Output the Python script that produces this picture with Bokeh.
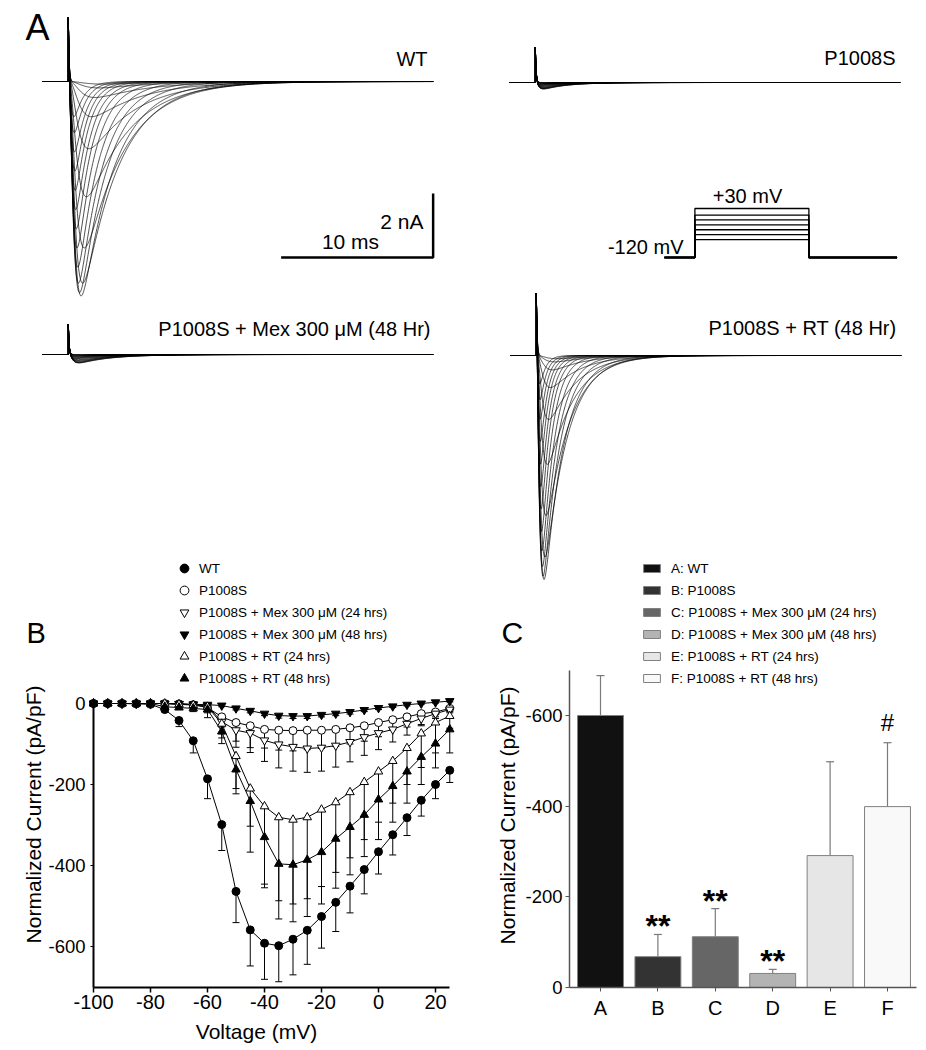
import numpy as np
from bokeh.plotting import figure
from bokeh.models import (Range1d, ColumnDataSource, LinearAxis, FixedTicker, Whisker,
                          TeeHead, Legend, LegendItem)
from bokeh.core.properties import value
from bokeh.embed import file_html
from bokeh.resources import INLINE

# ======================= DATA =======================
# ---- Panel A: current traces (one sweep per test potential) ----
sweep_mV = list(range(-70, 30, 5))
tau_m_ms = [0.90, 0.75, 0.62, 0.52, 0.44, 0.38, 0.33, 0.29, 0.26, 0.23,
            0.21, 0.20, 0.19, 0.18, 0.17, 0.16, 0.155, 0.15, 0.145, 0.14]
tau_h_ms = [3.5, 3.4, 3.3, 3.2, 3.0, 2.8, 2.6, 2.4, 2.1, 1.8,
            1.6, 1.4, 1.2, 1.05, 0.95, 0.85, 0.78, 0.72, 0.66, 0.60]
wt_peak_nA = [0.08, 0.2, 0.5, 1.1, 2.1, 3.6, 5.2, 6.3, 6.7, 6.6,
              6.3, 5.8, 5.2, 4.6, 4.0, 3.4, 2.8, 2.2, 1.6, 1.1]
p1008s_peak_nA = [0.0, 0.01, 0.02, 0.04, 0.07, 0.11, 0.15, 0.18, 0.2, 0.2,
                  0.19, 0.18, 0.16, 0.14, 0.12, 0.1, 0.08, 0.06, 0.05, 0.03]
mex_peak_nA = [0.0, 0.01, 0.03, 0.06, 0.1, 0.15, 0.2, 0.24, 0.26, 0.26,
               0.25, 0.23, 0.2, 0.18, 0.15, 0.13, 0.11, 0.08, 0.06, 0.04]
rt_peak_nA = [0.1, 0.2, 0.45, 1.0, 2.0, 3.4, 5.0, 6.3, 7.0, 6.9,
              6.6, 6.1, 5.5, 4.8, 4.1, 3.4, 2.7, 2.0, 1.4, 0.9]
panel_names = ["WT", "P1008S", "P1008S + Mex 300 \u03bcM (48 Hr)", "P1008S + RT (48 Hr)"]
artifact_nA = [2.0, 1.1, 0.95, 1.95]
kinetics_scale = [1.0, 0.7, 0.9, 0.6]
trace_len_ms = 25.7
step_on_ms = 1.7
scale_bar_ms = 10
scale_bar_nA = 2

# ---- voltage protocol ----
hold_mV = -120
step_mV = [-65, -50, -35, -20, -5, 10, 30]
prot_on_ms, prot_off_ms, prot_end_ms = 2.0, 9.5, 15.3

# ---- Panel B: I-V relationships ----
voltage_mV = list(range(-100, 30, 5))
iv_wt = [0, 0, 0, -1, -2, -15, -42, -92, -186, -299, -464, -559, -592, -598, -582, -560,
         -526, -491, -451, -410, -366, -324, -282, -239, -200, -165]
iv_wt_err = [0, 0, 0, 0, 1, 5, 15, 30, 49, 64, 77, 89, 89, 89, 88, 84,
             78, 72, 66, 60, 55, 50, 44, 39, 35, 30]
iv_p1008s = [0, 0, 0, 0, 0, 0, -1, -3, -10, -33, -47, -55, -64, -66, -67, -66,
             -66, -64, -60, -55, -47, -40, -33, -25, -21, -12]
iv_p1008s_err = [0, 0, 0, 0, 0, 0, 1, 3, 8, 25, 46, 54, 46, 49, 50, 48,
                 45, 42, 40, 38, 35, 25, 25, 30, 12, 8]
iv_mex24 = [0, 0, 0, 0, 0, 0, -1, -3, -6, -45, -66, -73, -91, -101, -107, -111,
            -109, -104, -95, -83, -73, -64, -50, -37, -25, -15]
iv_mex24_err = [0, 0, 0, 0, 0, 0, 1, 3, 10, 30, 42, 48, 52, 58, 60, 59,
                58, 53, 49, 45, 41, 31, 28, 15, 12, 8]
iv_mex48 = [0, 0, 0, 0, 0, 0, -1, -2, -3, -5, -12, -18, -25, -30, -31, -31,
            -28, -25, -21, -16, -11, -7, -3, 0, 3, 6]
iv_mex48_err = [0, 0, 0, 0, 0, 0, 1, 1, 2, 3, 4, 5, 5, 6, 6, 6,
                5, 5, 5, 4, 4, 3, 3, 2, 2, 2]
iv_rt24 = [0, 0, 0, 0, 0, 0, -2, -4, -8, -50, -130, -210, -254, -281, -287, -281,
           -262, -244, -219, -194, -168, -142, -110, -74, -47, -31]
iv_rt24_err = [0, 0, 0, 0, 0, 0, 2, 4, 15, 35, 80, 93, 192, 206, 208, 201,
               190, 173, 162, 142, 125, 104, 90, 84, 75, 30]
iv_rt48 = [0, 0, 0, 0, 0, -8, -10, -12, -15, -69, -163, -241, -330, -396, -398, -386,
           -367, -334, -305, -275, -237, -204, -168, -132, -99, -64]
iv_rt48_err = [0, 0, 0, 0, 0, 3, 5, 8, 20, 30, 60, 126, 125, 136, 141, 140,
               128, 122, 118, 103, 99, 89, 78, 68, 60, 58]
iv_names = ["WT", "P1008S", "P1008S + Mex 300 \u03bcM (24 hrs)", "P1008S + Mex 300 \u03bcM (48 hrs)",
            "P1008S + RT (24 hrs)", "P1008S + RT (48 hrs)"]
iv_x_ticks = [-100, -80, -60, -40, -20, 0, 20]
iv_y_ticks = [-600, -400, -200, 0]

# ---- Panel C: peak current density ----
groups = ["A", "B", "C", "D", "E", "F"]
group_names = ["WT", "P1008S", "P1008S + Mex 300 \u03bcM (24 hrs)", "P1008S + Mex 300 \u03bcM (48 hrs)",
               "P1008S + RT (24 hrs)", "P1008S + RT (48 hrs)"]
bar_mean = [-600, -68, -112, -31, -291, -399]
bar_err = [88, 49, 62, 9, 207, 141]
sig_mark = ["", "**", "**", "**", "", "#"]
bar_y_ticks = [-600, -400, -200, 0]

# ======================= LAYOUT / STYLE =======================
W, H = 926, 1050
FONT = "Liberation Sans"
bar_colors = ["#111111", "#333333", "#666666", "#b3b3b3", "#e6e6e6", "#f9f9f9"]


def xmap(d0, p0, d1, p1):
    k = (p1 - p0) / (d1 - d0)
    s = d0 - p0 / k
    return Range1d(start=s, end=s + W / k)


def ymap(d0, p0, d1, p1):
    c0, c1 = H - p0, H - p1
    k = (c1 - c0) / (d1 - d0)
    s = d0 - c0 / k
    return Range1d(start=s, end=s + H / k)


def hyphen_labels(ticks):
    return {t: str(t) for t in ticks}


p = figure(width=W, height=H, x_range=Range1d(0, W), y_range=Range1d(H, 0),
           x_axis_type=None, y_axis_type=None, output_backend="svg",
           toolbar_location=None, min_border=0)
p.outline_line_color = None
p.background_fill_color = "white"

# trace panels: ms / nA, 15.2 px per ms, 32 px per nA
trace_origin = [(42, 81), (509, 82), (42, 354), (510, 355)]
for i, (ox, oy) in enumerate(trace_origin):
    p.extra_x_ranges[f"t{i}x"] = xmap(0, ox, 10, ox + 152)
    p.extra_y_ranges[f"t{i}y"] = ymap(0, oy, -2, oy + 64)
p.extra_x_ranges["px"] = xmap(0, 664, 10, 816)
p.extra_y_ranges["py"] = ymap(-120, 257, 30, 208)
p.extra_x_ranges["bx"] = xmap(-100, 93, 20, 435)
p.extra_y_ranges["by"] = ymap(0, 703, -600, 946)
p.extra_x_ranges["cx"] = xmap(0, 600, 5, 887)
p.extra_y_ranges["cy"] = ymap(0, 987, -600, 715)


def sweeps(peaks, art, tscale):
    pre = np.linspace(0, step_on_ms, 6)
    post = step_on_ms + np.concatenate([np.linspace(0, 9, 451), np.linspace(9.3, trace_len_ms - step_on_ms, 50)])
    xs, ys = [], []
    s = post - step_on_ms
    for A, tm, th in zip(peaks, tau_m_ms, tau_h_ms):
        f = (1 - np.exp(-s / (tm * tscale))) ** 3 * np.exp(-s / (th * tscale))
        ion = -A * f / f.max()
        spike = art * np.exp(-s / 0.05)
        xs.append(np.concatenate([pre, post]).tolist())
        ys.append(np.concatenate([np.zeros_like(pre), ion + spike]).tolist())
    return xs, ys


all_peaks = [wt_peak_nA, p1008s_peak_nA, mex_peak_nA, rt_peak_nA]
for i in range(4):
    xs, ys = sweeps(all_peaks[i], artifact_nA[i], kinetics_scale[i])
    p.multi_line(xs, ys, line_color="black", line_width=0.7,
                 x_range_name=f"t{i}x", y_range_name=f"t{i}y")

# scale bar (WT panel)
p.line([trace_len_ms - scale_bar_ms, trace_len_ms, trace_len_ms],
       [-5.5, -5.5, -5.5 + scale_bar_nA], line_color="black", line_width=2.5,
       x_range_name="t0x", y_range_name="t0y")

# voltage protocol
pxs, pys = [], []
for v in step_mV:
    pxs.append([0, prot_on_ms, prot_on_ms, prot_off_ms, prot_off_ms, prot_end_ms])
    pys.append([hold_mV, hold_mV, v, v, hold_mV, hold_mV])
p.multi_line(pxs, pys, line_color="black", line_width=1.3, x_range_name="px", y_range_name="py")


def lab(x, y, text, size_px, align="left", angle=0.0, baseline="alphabetic"):
    # y is the wanted baseline; the rendered alphabetic baseline sits ~0.42 em lower
    yy = y - 0.42 * size_px if baseline == "alphabetic" else y
    p.text(x=[x], y=[yy], text=[text], text_font=value(FONT), text_font_size=f"{size_px}px",
           text_align=align, text_baseline=baseline, angle=angle, text_color="black")


lab(25, 42, "A", 36)
lab(427, 67, panel_names[0], 20, "right")
lab(895, 66, panel_names[1], 20, "right")
lab(430, 337, panel_names[2], 20, "right")
lab(896, 336, panel_names[3], 20, "right")
lab(423, 230, "2 nA", 21, "right")
lab(350, 250, "10 ms", 21, "center")
lab(747, 204, "+30 mV", 20, "center")
lab(683, 255, "-120 mV", 20, "right")

# ======================= Panel B =======================
series = [(iv_wt, iv_wt_err, "circle", "black"),
          (iv_p1008s, iv_p1008s_err, "circle", "white"),
          (iv_mex24, iv_mex24_err, "inverted_triangle", "white"),
          (iv_mex48, iv_mex48_err, "inverted_triangle", "black"),
          (iv_rt24, iv_rt24_err, "triangle", "white"),
          (iv_rt48, iv_rt48_err, "triangle", "black")]
b_items = []
for (ys_, err, mk, fc), name in zip(series, iv_names):
    p.line(voltage_mV, ys_, line_color="black", line_width=1, x_range_name="bx", y_range_name="by")
    keep = [k for k, e in enumerate(err) if e > 0]
    src = ColumnDataSource(dict(base=[voltage_mV[k] for k in keep],
                                lower=[ys_[k] for k in keep],
                                upper=[ys_[k] - err[k] for k in keep]))
    wsk = Whisker(base="base", lower="lower", upper="upper", source=src, dimension="height",
                  line_color="black", line_width=1, lower_head=None,
                  upper_head=TeeHead(size=7, line_color="black", line_width=1),
                  x_range_name="bx", y_range_name="by", level="underlay")
    p.add_layout(wsk)
for (ys_, err, mk, fc), name in zip(series, iv_names):
    r = p.scatter(voltage_mV, ys_, marker=mk, size=8 if mk == "circle" else 8.5,
                  fill_color=fc, line_color="black", line_width=1,
                  x_range_name="bx", y_range_name="by")
    b_items.append(LegendItem(label=name, renderers=[r]))

ax = LinearAxis(x_range_name="bx", y_range_name="by", fixed_location=-100, bounds=(-700, 5),
                ticker=FixedTicker(ticks=iv_y_ticks), major_label_overrides=hyphen_labels(iv_y_ticks))
ax.axis_line_width = 2
ax.major_tick_out = 3
ax.major_tick_in = 0
ax.minor_tick_out = 0
ax.major_label_standoff = 5
ax.major_label_text_font = FONT
ax.major_label_text_color = "black"
ax.major_label_text_font_size = "18.5px"
p.add_layout(ax, "left")

ax = LinearAxis(x_range_name="bx", y_range_name="by", fixed_location=-700, bounds=(-100, 25),
                ticker=FixedTicker(ticks=iv_x_ticks), major_label_overrides=hyphen_labels(iv_x_ticks))
ax.axis_line_width = 2
ax.major_tick_out = 5
ax.major_tick_in = 0
ax.major_tick_line_width = 1.5
ax.minor_tick_out = 0
ax.major_label_standoff = 3
ax.major_label_text_font = FONT
ax.major_label_text_color = "black"
ax.major_label_text_font_size = "20px"
p.add_layout(ax, "below")

lab(33, 814, "Normalized Current (pA/pF)", 21, "center", angle=np.pi / 2, baseline="middle")
lab(256, 1040, "Voltage (mV)", 21, "center")
lab(26, 645, "B", 29)

leg_b = Legend(items=b_items, location=(173, 361), orientation="vertical",
               glyph_width=22, glyph_height=22, label_height=22, spacing=0, padding=0, margin=0,
               label_standoff=4, border_line_color=None, background_fill_alpha=0,
               label_text_font=FONT, label_text_font_size="13.5px", label_text_color="black")
p.add_layout(leg_b)

# ======================= Panel C =======================
idx = list(range(len(groups)))
bars = p.vbar(x=idx, top=bar_mean, bottom=0, width=0.8, fill_color=bar_colors,
              line_color="#808080", line_width=1, x_range_name="cx", y_range_name="cy")
csrc = ColumnDataSource(dict(base=idx, lower=bar_mean,
                             upper=[m - e for m, e in zip(bar_mean, bar_err)]))
p.add_layout(Whisker(base="base", lower="lower", upper="upper", source=csrc, dimension="height",
                     line_color="#7a7a7a", line_width=1.2, lower_head=None,
                     upper_head=TeeHead(size=8, line_color="#7a7a7a", line_width=1.2),
                     x_range_name="cx", y_range_name="cy"))

st = [i for i in idx if sig_mark[i] == "**"]
p.text(x=st, y=[bar_mean[i] - bar_err[i] for i in st], text=[sig_mark[i] for i in st],
       text_font=value(FONT), text_font_size="32px", text_font_style="bold",
       text_align="center", text_baseline="alphabetic", y_offset=-8,
       x_range_name="cx", y_range_name="cy")
hs = [i for i in idx if sig_mark[i] == "#"]
p.text(x=hs, y=[bar_mean[i] - bar_err[i] for i in hs], text=[sig_mark[i] for i in hs],
       text_font=value(FONT), text_font_size="24px",
       text_align="center", text_baseline="alphabetic", y_offset=-20,
       x_range_name="cx", y_range_name="cy")

ax = LinearAxis(x_range_name="cx", y_range_name="cy", fixed_location=-0.54, bounds=(0, -700),
                ticker=FixedTicker(ticks=bar_y_ticks), major_label_overrides=hyphen_labels(bar_y_ticks))
ax.axis_line_color = "#555555"
ax.axis_line_width = 1.5
ax.major_tick_line_color = "#555555"
ax.major_tick_out = 4
ax.major_tick_in = 0
ax.minor_tick_out = 0
ax.major_label_standoff = 3
ax.major_label_text_font = FONT
ax.major_label_text_color = "black"
ax.major_label_text_font_size = "18.5px"
p.add_layout(ax, "left")

ax = LinearAxis(x_range_name="cx", y_range_name="cy", fixed_location=0, bounds=(-0.54, 5.5),
                ticker=FixedTicker(ticks=idx),
                major_label_overrides={i: g for i, g in zip(idx, groups)})
ax.axis_line_color = "#555555"
ax.axis_line_width = 1.5
ax.major_tick_line_color = "#555555"
ax.major_tick_out = 4
ax.major_tick_in = 0
ax.minor_tick_out = 0
ax.major_label_standoff = 5
ax.major_label_text_font = FONT
ax.major_label_text_color = "black"
ax.major_label_text_font_size = "20px"
p.add_layout(ax, "below")

lab(507, 815, "Normalized Current (pA/pF)", 21, "center", angle=np.pi / 2, baseline="middle")
lab(501, 645, "C", 30)

leg_c = Legend(items=[LegendItem(label=f"{g}: {n}", renderers=[bars], index=i)
                      for i, (g, n) in enumerate(zip(groups, group_names))],
               location=(641, 361), orientation="vertical",
               glyph_width=21, glyph_height=10, label_height=22, spacing=0, padding=0, margin=0,
               label_standoff=9, border_line_color=None, background_fill_alpha=0,
               label_text_font=FONT, label_text_font_size="13.5px", label_text_color="black")
p.add_layout(leg_c)

open("out.html", "w").write(file_html(p, INLINE))
